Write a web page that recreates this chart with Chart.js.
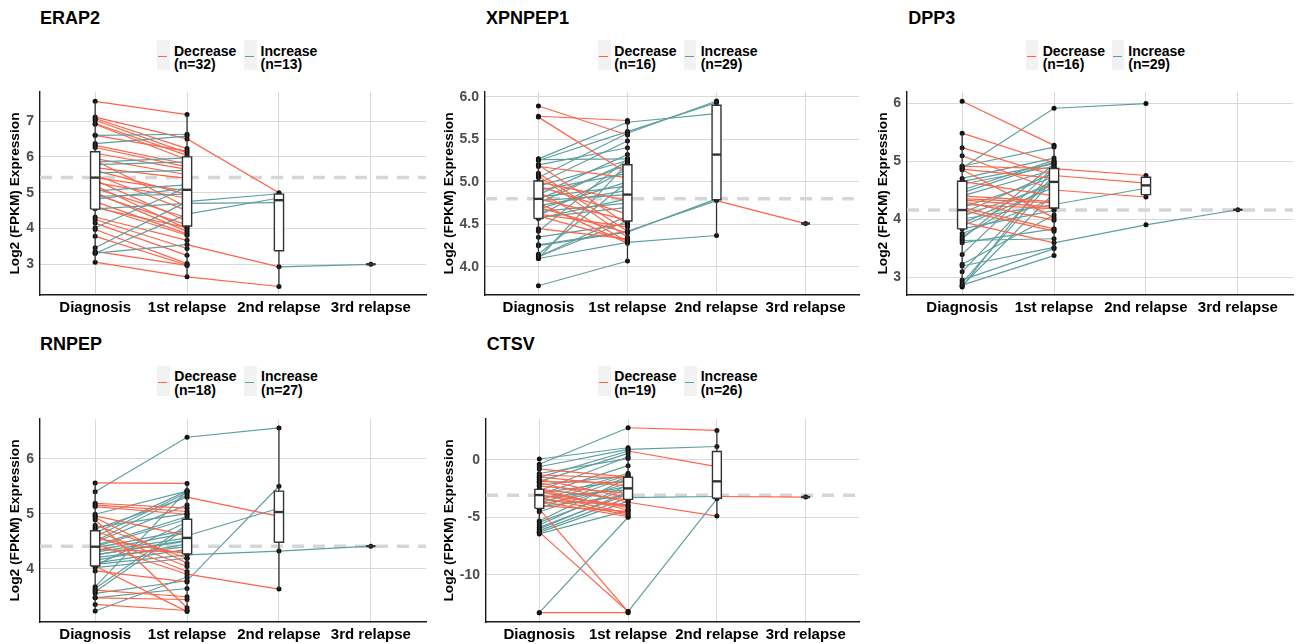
<!DOCTYPE html>
<html><head><meta charset="utf-8">
<script src="https://cdn.jsdelivr.net/npm/chart.js@4.4.1/dist/chart.umd.min.js"></script>
<style>
body{margin:0;background:#fff;width:1297px;height:644px;position:relative;overflow:hidden;font-family:"Liberation Sans",Arial,sans-serif;}
canvas{position:absolute;}
.title{position:absolute;font-weight:bold;font-size:18px;line-height:18px;color:#000;white-space:nowrap}
.key{position:absolute;width:12.5px;height:30px;background:#f2f2f2}
.key i{position:absolute;left:1px;top:15.7px;width:9px;height:1.3px;display:block}
.lt{position:absolute;font-weight:bold;font-size:14px;line-height:13.5px;color:#000;white-space:nowrap}
</style></head><body>
<script>
// ---------------- data ----------------
const categories = ['Diagnosis', '1st relapse', '2nd relapse', '3rd relapse'];
const genes = ['ERAP2', 'XPNPEP1', 'DPP3', 'RNPEP', 'CTSV'];
const nDecrease = [32, 16, 16, 18, 19];
const nIncrease = [13, 29, 29, 27, 26];
const yAxisTitle = 'Log2 (FPKM) Expression';

// patient values: [Diagnosis, 1st relapse, 2nd relapse, 3rd relapse]
const erap2Patients = [
  [6.60, 6.63], [6.37, 6.58], [5.85, 5.97], [5.78, 5.86], [5.55, 5.62], [5.05, 5.22], [4.90, 4.96],
  [4.82, 5.12], [4.55, 4.70, 4.72], [4.02, 5.15], [3.46, 4.75, 4.97], [3.31, 4.40, 4.85], [3.31, 3.55, 2.93, 3.00],
  [7.55, 7.18], [7.11, 6.50, 5.00], [7.07, 6.23], [7.02, 6.11], [6.93, 6.04], [6.91, 5.92], [6.60, 6.16],
  [6.32, 5.80], [6.26, 5.72], [6.10, 5.65], [5.95, 5.50], [5.90, 4.60], [5.70, 5.40], [5.62, 4.95],
  [5.50, 4.50], [5.42, 5.05], [5.35, 4.20], [5.28, 4.85], [5.20, 3.99], [5.12, 4.30], [5.00, 3.92],
  [4.95, 4.10], [4.75, 3.85], [4.62, 3.81], [4.58, 4.02], [4.32, 3.67], [4.25, 3.44], [4.15, 3.25],
  [3.97, 3.02], [3.78, 2.98], [3.36, 2.97], [3.06, 2.65, 2.38]
];
const xpnpep1Patients = [
  [5.89, 5.55], [5.77, 5.72], [5.76, 5.10], [5.20, 4.50], [5.18, 5.05], [5.10, 4.42], [5.07, 4.35],
  [5.00, 4.78], [4.95, 4.62], [4.88, 4.30], [4.80, 4.55], [4.75, 4.28], [4.70, 4.40], [4.62, 4.47],
  [4.45, 4.33], [4.60, 4.31],
  [5.27, 5.70, 5.80], [5.26, 5.27], [5.25, 5.59, 5.93], [5.20, 5.40], [5.05, 5.57, 5.95], [4.98, 5.48],
  [4.95, 5.25], [4.90, 5.10], [4.85, 5.32], [4.82, 4.95], [4.80, 5.20], [4.78, 4.85], [4.75, 5.23],
  [4.72, 4.90], [4.68, 5.00], [4.65, 4.75], [4.60, 5.15], [4.58, 4.70], [4.57, 4.80], [4.42, 5.27],
  [4.35, 4.51], [4.26, 4.42, 4.78, 4.51], [4.25, 4.41, 4.80], [4.15, 5.00], [4.12, 4.60],
  [4.10, 4.29, 4.37], [4.12, 4.54], [4.10, 5.22], [3.78, 4.07]
];
const dpp3Patients = [
  [6.03, 5.27], [5.48, 4.97], [5.23, 4.75, 4.62], [5.09, 4.50, 4.38], [4.91, 4.87, 4.75], [4.86, 4.70],
  [4.85, 4.02], [4.65, 4.40], [4.35, 4.28], [4.33, 4.20], [4.30, 3.98], [4.25, 4.18], [4.20, 3.83],
  [4.15, 3.79], [3.95, 3.59, 3.90, 4.16], [4.40, 4.30],
  [4.88, 5.91, 5.99], [4.91, 5.24], [4.70, 5.05], [4.65, 4.95], [4.60, 4.91], [4.50, 5.01], [4.45, 4.98],
  [4.40, 4.85], [4.10, 4.80], [4.05, 4.60], [4.00, 4.25, 4.53], [3.92, 4.65], [3.88, 4.55], [3.83, 4.15],
  [3.66, 4.95], [3.63, 3.66], [3.59, 3.83], [3.39, 4.90], [3.22, 4.07], [3.19, 3.51], [3.09, 4.75],
  [2.90, 4.70], [2.86, 3.37], [2.83, 4.88], [2.85, 4.45], [3.70, 4.62], [4.20, 4.72], [3.75, 4.35], [2.95, 3.49]
];
const rnpepPatients = [
  [5.56, 5.55], [5.19, 5.10], [5.16, 5.04], [5.13, 4.99], [4.96, 4.60, 5.10], [4.93, 4.10], [4.89, 3.29],
  [4.79, 4.19], [4.69, 4.04], [4.60, 3.95], [4.55, 4.27], [4.45, 3.90, 3.63], [4.35, 4.30], [4.05, 3.22],
  [3.96, 3.76], [3.47, 3.44], [3.35, 3.24], [3.61, 3.49],
  [5.40, 6.39, 6.56], [4.72, 5.30, 4.95], [4.65, 5.41], [4.58, 5.38], [4.50, 5.34], [4.48, 5.16],
  [4.42, 4.95], [4.40, 4.90], [4.38, 4.70], [4.33, 4.65], [4.30, 4.56], [4.25, 4.50], [4.20, 4.40],
  [4.15, 4.45], [4.10, 4.35], [4.06, 4.85], [4.08, 4.25, 4.32, 4.41], [3.67, 5.42], [3.64, 4.80],
  [3.55, 3.78, 5.50], [3.58, 4.75], [3.47, 3.64], [3.23, 3.85], [4.99, 5.41], [4.25, 4.52], [4.02, 4.19], [4.75, 5.00]
];
const ctsvPatients = [
  [-13.3, -13.3], [-4.3, -13.2], [-6.3, -13.2, -3.4], [-0.81, -1.5], [-1.33, -1.6], [-1.5, -2.3],
  [-1.7, -3.3, -3.2, -3.25], [-2.0, -3.7, -4.9], [-2.6, -4.37], [-2.8, -4.17], [-3.0, -4.66], [-3.1, -3.94],
  [-3.3, -4.81], [-3.6, -4.96], [-4.0, -4.5], [-2.55, -3.5], [-3.45, -4.0], [-1.9, -2.0], [-2.3, -2.9],
  [-0.40, 2.78, 2.55], [0.06, 1.04], [-0.61, 0.90, 1.15], [-1.53, 0.76, -0.6], [-1.91, 0.55], [-2.7, 0.26],
  [-3.0, -0.52], [-3.5, -1.18], [-3.8, -1.33], [-4.2, -1.50], [-4.52, -2.0], [-5.33, -1.6], [-5.45, -2.5],
  [-5.68, -2.2], [-5.88, -3.0], [-6.03, -2.8], [-6.17, -3.3], [-6.32, -3.6], [-6.45, -4.4], [-13.3, -5.0],
  [-2.2, -1.4], [-2.9, -1.8], [-3.3, -2.6], [-4.1, -3.1], [-3.9, -2.3], [-1.2, 0.1]
];

// box statistics per category: [lower whisker, Q1, median, Q3, upper whisker]
const erap2Box = [[3.06, 4.54, 5.42, 6.14, 7.55], [2.65, 4.07, 5.08, 6.00, 7.18], [2.38, 3.38, 4.79, 4.96, 5.00], [3.00, 3.00, 3.00, 3.00, 3.00]];
const xpnpep1Box = [[4.10, 4.57, 4.80, 5.01, 5.27], [4.07, 4.54, 4.85, 5.20, 5.72], [4.37, 4.79, 5.32, 5.90, 5.95], [4.51, 4.51, 4.51, 4.51, 4.51]];
const dpp3Box = [[2.83, 3.83, 4.155, 4.65, 5.48], [3.37, 4.19, 4.64, 4.87, 5.27], [4.38, 4.42, 4.58, 4.72, 4.75], [4.16, 4.16, 4.16, 4.16, 4.16]];
const rnpepBox = [[3.23, 4.05, 4.40, 4.69, 5.56], [3.22, 4.27, 4.56, 4.90, 5.56], [3.63, 4.48, 5.03, 5.41, 6.56], [4.41, 4.41, 4.41, 4.41, 4.41]];
const ctsvBox = [[-6.49, -4.23, -3.07, -2.58, -0.40], [-4.96, -3.45, -2.49, -1.53, 1.04], [-4.9, -3.35, -1.88, 0.71, 2.55], [-3.25, -3.25, -3.25, -3.25, -3.25]];

// dashed reference line (median at diagnosis)
const refLines = [5.42, 4.80, 4.155, 4.41, -3.1];

// y axis tick values and ranges
const erap2Ticks = [3, 4, 5, 6, 7];
const xpnpep1Ticks = [4.0, 4.5, 5.0, 5.5, 6.0];
const dpp3Ticks = [3, 4, 5, 6];
const rnpepTicks = [4, 5, 6];
const ctsvTicks = [-10, -5, 0];
const tickDecimals = [0, 1, 0, 0, 0];
const yRanges = [[2.143, 7.81], [3.671, 6.055], [2.69, 6.19], [3.031, 6.722], [-14.11, 3.54]];
const xRange = [0.4, 4.6];

const allPatients = [erap2Patients, xpnpep1Patients, dpp3Patients, rnpepPatients, ctsvPatients];
const allBoxes = [erap2Box, xpnpep1Box, dpp3Box, rnpepBox, ctsvBox];
const allTicks = [erap2Ticks, xpnpep1Ticks, dpp3Ticks, rnpepTicks, ctsvTicks];

// ---------------- layout & style ----------------
const RED = '#FF6347', TEAL = '#5F9EA0';
const FONT = '"Liberation Sans", Arial, sans-serif';
Chart.defaults.font.family = FONT;

const layouts = [
  {caL: 40, caT: 92, caR: 427.5, caB: 295, titleX: 15.3, cBottom: 320, tL: 40, tT: 8.8, kT: 40, lT: 44.7, k1: 157, x1: 174, k2: 244.3, x2: 260.5},
  {caL: 485, caT: 92, caR: 860.5, caB: 295, titleX: 449.5, cBottom: 320, tL: 486, tT: 8.8, kT: 40, lT: 44.7, k1: 598, x1: 614.3, k2: 683.5, x2: 700.7},
  {caL: 907, caT: 92, caR: 1295, caB: 295, titleX: 883.3, cBottom: 320, tL: 908.3, tT: 8.8, kT: 40, lT: 44.7, k1: 1025.7, x1: 1042.7, k2: 1111.7, x2: 1128.3},
  {caL: 40, caT: 419, caR: 427.5, caB: 622, titleX: 15.3, cBottom: 644, tL: 40, tT: 334.8, kT: 366, lT: 370.1, k1: 157.3, x1: 174.3, k2: 244.3, x2: 261},
  {caL: 486, caT: 419, caR: 860.5, caB: 622, titleX: 449.5, cBottom: 644, tL: 486.7, tT: 334.8, kT: 366, lT: 370.1, k1: 598.3, x1: 614.3, k2: 684, x2: 700.7}
];

function addDiv(cls, left, top, html) {
  const d = document.createElement('div');
  d.className = cls; d.style.left = left + 'px'; d.style.top = top + 'px';
  d.innerHTML = html; document.body.appendChild(d); return d;
}

function build(p) {
  const L = layouts[p];
  addDiv('title', L.tL, L.tT, genes[p]);
  [[L.k1, L.x1, RED, 'Decrease', nDecrease[p]], [L.k2, L.x2, TEAL, 'Increase', nIncrease[p]]].forEach(([kx, tx, col, lab, n]) => {
    const k = addDiv('key', kx, L.kT, '<i></i>');
    k.firstChild.style.background = col;
    addDiv('lt', tx, L.lT, lab + '<br>(n=' + n + ')');
  });

  const padTop = 10;
  const cl = Math.round(L.titleX - 8.1);
  const ct = L.caT - padTop;
  const cw = Math.round(L.caR + 2 - cl);
  const ch = L.cBottom - ct;
  const yW = L.caL - cl;
  const xH = L.cBottom - L.caB;
  const padR = cw - (L.caR - cl);

  const canvas = document.createElement('canvas');
  canvas.width = cw; canvas.height = ch;
  canvas.style.left = cl + 'px'; canvas.style.top = ct + 'px';
  canvas.style.width = cw + 'px'; canvas.style.height = ch + 'px';
  document.body.appendChild(canvas);

  const ds = [];
  const w = 0.05;
  allBoxes[p].forEach((b, i) => {
    const x = i + 1;
    const [lo, q1, med, q3, hi] = b;
    ds.push({data: [{x: x, y: lo}, {x: x, y: hi}], borderColor: '#333', borderWidth: 1.3, pointRadius: 0, fill: false, order: 13});
    ds.push({data: [{x: x - w, y: q3}, {x: x + w, y: q3}], borderColor: 'rgba(0,0,0,0)', borderWidth: 0, backgroundColor: '#ffffff', fill: {value: q1}, pointRadius: 0, order: 12});
    ds.push({data: [{x: x - w, y: q1}, {x: x - w, y: q3}, {x: x + w, y: q3}, {x: x + w, y: q1}, {x: x - w, y: q1}], borderColor: '#333', borderWidth: 1.4, pointRadius: 0, fill: false, order: 11});
    ds.push({data: [{x: x - w, y: med}, {x: x + w, y: med}], borderColor: '#333', borderWidth: 2.4, pointRadius: 0, fill: false, order: 10});
  });
  const pts = [];
  allPatients[p].forEach(row => row.forEach((v, i) => pts.push({x: i + 1, y: v})));
  ds.push({data: pts, showLine: false, pointRadius: 2.5, pointBackgroundColor: '#111', pointBorderWidth: 0, borderWidth: 0, fill: false, order: 20});
  allPatients[p].forEach(row => {
    ds.push({
      data: row.map((v, i) => ({x: i + 1, y: v})),
      borderColor: RED, borderWidth: 1.2, pointRadius: 0, fill: false, order: 30,
      segment: {borderColor: c => (c.p1.parsed.y > c.p0.parsed.y ? TEAL : RED)}
    });
  });
  ds.push({data: [{x: xRange[0], y: refLines[p]}, {x: xRange[1], y: refLines[p]}], borderColor: '#d6d6d6', borderWidth: 3.5, borderDash: [12, 9], pointRadius: 0, fill: false, order: 40});

  new Chart(canvas, {
    type: 'line',
    data: {datasets: ds},
    options: {
      responsive: false, animation: false, events: [],
      layout: {padding: {top: padTop, right: padR, left: 0, bottom: 0}},
      plugins: {legend: {display: false}, tooltip: {enabled: false}},
      elements: {line: {tension: 0}},
      scales: {
        x: {
          type: 'linear', min: xRange[0], max: xRange[1],
          afterBuildTicks: s => { s.ticks = categories.map((c, i) => ({value: i + 1})); },
          afterFit: s => { s.height = xH; s.paddingLeft = 0; s.paddingRight = 0; },
          ticks: {callback: v => categories[Math.round(v) - 1], font: {size: 15, weight: 'bold'}, color: '#000', padding: 4, autoSkip: false, maxRotation: 0, minRotation: 0},
          grid: {color: '#d9d9d9', lineWidth: 1, drawTicks: false},
          border: {display: true, color: '#1a1a1a', width: 1.4}
        },
        y: {
          type: 'linear', min: yRanges[p][0], max: yRanges[p][1],
          afterBuildTicks: s => { s.ticks = allTicks[p].map(v => ({value: v})); },
          afterFit: s => { s.width = yW; s.paddingTop = 0; s.paddingBottom = 0; },
          ticks: {callback: v => Number(v).toFixed(tickDecimals[p]), font: {size: 14, weight: 'bold'}, color: '#4d4d4d', padding: 6},
          grid: {color: '#d9d9d9', lineWidth: 1, drawTicks: false},
          border: {display: true, color: '#1a1a1a', width: 1.4},
          title: {display: true, text: yAxisTitle, font: {size: 13.7, weight: 'bold'}, color: '#000', padding: 0}
        }
      }
    }
  });
}
genes.forEach((g, p) => build(p));
</script>
</body></html>
